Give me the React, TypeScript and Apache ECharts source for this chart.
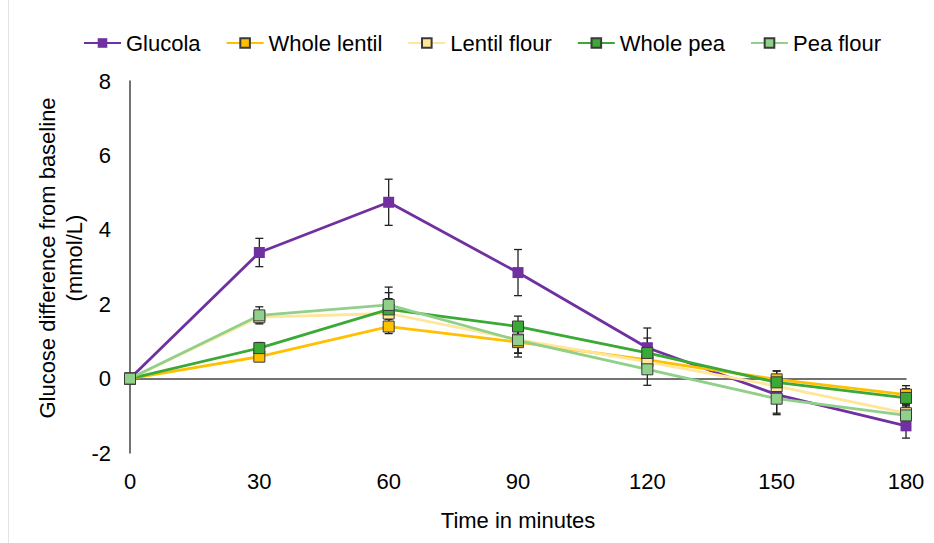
import React, { useEffect, useRef } from "react";
import * as echarts from "echarts";

const times = [0, 30, 60, 90, 120, 150, 180];
const seriesNames = ["Glucola", "Whole lentil", "Lentil flour", "Whole pea", "Pea flour"];

const glucola = [0, 3.39, 4.74, 2.85, 0.83, -0.43, -1.27];
const glucolaErr = [0, 0.38, 0.62, 0.62, 0.53, 0.5, 0.33];
const wholeLentil = [0, 0.59, 1.4, 0.98, 0.5, -0.02, -0.43];
const wholeLentilErr = [0, 0.13, 0.19, 0.3, 0.3, 0.23, 0.24];
const lentilFlour = [0, 1.65, 1.75, 1.05, 0.45, -0.2, -0.93];
const lentilFlourErr = [0, 0.15, 0.4, 0.36, 0.3, 0.3, 0.2];
const wholePea = [0, 0.82, 1.86, 1.4, 0.69, -0.1, -0.52];
const wholePeaErr = [0, 0.15, 0.45, 0.28, 0.4, 0.3, 0.25];
const peaFlour = [0, 1.7, 1.98, 1.03, 0.25, -0.54, -0.99];
const peaFlourErr = [0, 0.23, 0.48, 0.45, 0.43, 0.43, 0.3];

const yTicks = { min: -2, max: 8, interval: 2 };
const xTicks = { min: 0, max: 180, interval: 30 };

const values = [glucola, wholeLentil, lentilFlour, wholePea, peaFlour];
const errors = [glucolaErr, wholeLentilErr, lentilFlourErr, wholePeaErr, peaFlourErr];
const colors = ["#7030A0", "#FFC000", "#FFE699", "#3BA935", "#90D08A"];

export default function App() {
  const ref = useRef<HTMLDivElement>(null);
  useEffect(() => {
    if (!ref.current) return;
    const chart = echarts.init(ref.current, null, { renderer: "svg" });
    const font = "Liberation Sans, Arial, sans-serif";
    const fs = 22;

    const lineSeries = seriesNames.map((name, i) => ({
      name,
      type: "line",
      data: times.map((t, j) => [t, values[i][j]]),
      symbol: "rect",
      symbolSize: 11,
      z: 3 + i,
      lineStyle: { color: colors[i], width: 2.8 },
      itemStyle: {
        color: colors[i],
        borderColor: i === 0 ? colors[i] : "#3a3a3a",
        borderWidth: i === 0 ? 0 : 1,
      },
      emphasis: { disabled: true },
    }));

    const errSeries = seriesNames.map((name, i) => ({
      name: name + " err",
      type: "custom",
      z: 2,
      silent: true,
      data: times.map((t, j) => [t, values[i][j], errors[i][j]]),
      renderItem: (params: any, api: any) => {
        const x = api.value(0);
        const y = api.value(1);
        const e = api.value(2);
        if (!e) return null;
        const top = api.coord([x, y + e]);
        const bot = api.coord([x, y - e]);
        const cap = 4;
        const style = { stroke: "#222", lineWidth: 1.3 };
        return {
          type: "group",
          children: [
            { type: "line", shape: { x1: top[0], y1: top[1], x2: bot[0], y2: bot[1] }, style },
            { type: "line", shape: { x1: top[0] - cap, y1: top[1], x2: top[0] + cap, y2: top[1] }, style },
            { type: "line", shape: { x1: bot[0] - cap, y1: bot[1], x2: bot[0] + cap, y2: bot[1] }, style },
          ],
        };
      },
    }));

    chart.setOption({
      animation: false,
      backgroundColor: "#ffffff",
      textStyle: { fontFamily: font },
      legend: {
        data: seriesNames,
        left: 78,
        top: 27,
        itemWidth: 37,
        itemHeight: 12,
        itemGap: 25,
        textStyle: { fontSize: fs, color: "#000", fontFamily: font },
      },
      grid: { left: 130, right: 28, top: 81, bottom: 90, containLabel: false },
      xAxis: [
        {
          type: "value",
          min: xTicks.min,
          max: xTicks.max,
          interval: xTicks.interval,
          position: "bottom",
          axisLine: { show: false, onZero: false },
          axisTick: { show: false },
          splitLine: { show: false },
          axisLabel: { fontSize: fs, color: "#000", margin: 17, fontFamily: font },
          name: "Time in minutes",
          nameLocation: "middle",
          nameGap: 56,
          nameTextStyle: { fontSize: fs, color: "#000", fontFamily: font },
        },
        {
          type: "value",
          min: xTicks.min,
          max: xTicks.max,
          interval: xTicks.interval,
          axisLine: { show: true, onZero: true, lineStyle: { color: "#444", width: 1.5 } },
          axisTick: { show: false },
          axisLabel: { show: false },
          splitLine: { show: false },
        },
      ],
      yAxis: {
        type: "value",
        min: yTicks.min,
        max: yTicks.max,
        interval: yTicks.interval,
        axisLine: { show: true, lineStyle: { color: "#444", width: 1.5 } },
        axisTick: { show: false },
        splitLine: { show: false },
        axisLabel: { fontSize: fs, color: "#000", margin: 19, fontFamily: font },
      },
      graphic: [
        {
          type: "line",
          shape: { x1: 8.5, y1: 0, x2: 8.5, y2: 543 },
          style: { stroke: "#e4e4e4", lineWidth: 1 },
          silent: true,
        },
        {
          type: "text",
          x: 61,
          y: 258,
          rotation: Math.PI / 2,
          style: {
            text: "Glucose difference from baseline\n(mmol/L)",
            fontSize: fs,
            fontFamily: font,
            fill: "#000",
            align: "center",
            verticalAlign: "middle",
            lineHeight: 27,
          },
          silent: true,
        },
      ],
      series: [...errSeries, ...lineSeries],
    });
    return () => chart.dispose();
  }, []);
  return (
    <div
      ref={ref}
      style={{ position: "fixed", left: 0, top: 0, width: 934, height: 543 }}
    />
  );
}
